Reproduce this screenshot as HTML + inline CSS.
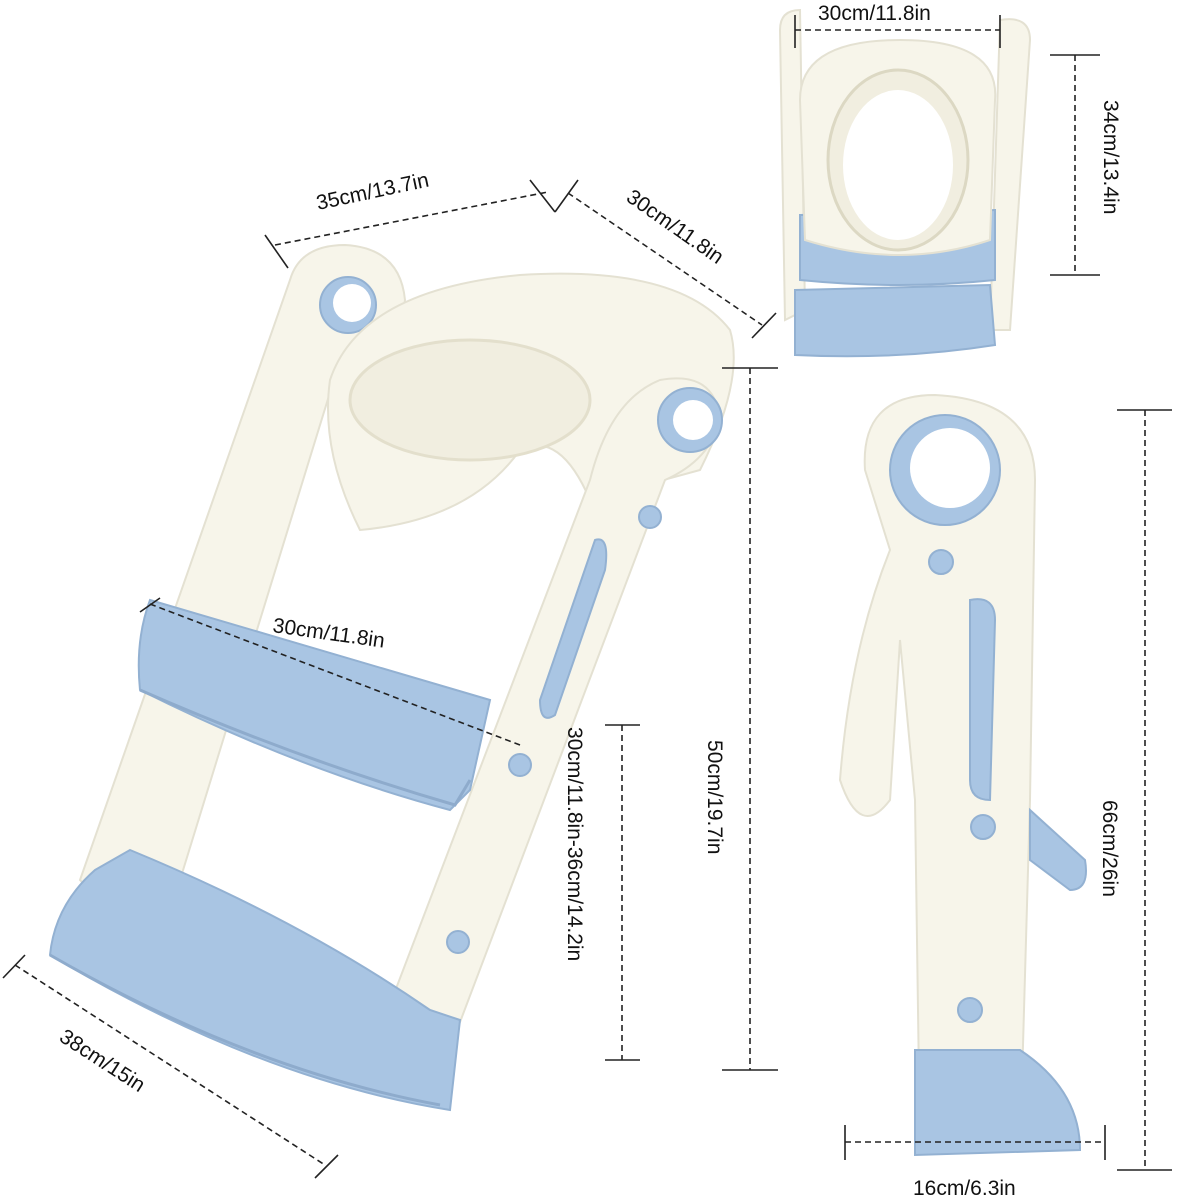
<!DOCTYPE html>
<html><head><meta charset="utf-8"><style>
html,body{margin:0;padding:0;background:#fff}
svg{display:block}
text{font-family:"Liberation Sans",sans-serif;font-size:21px;fill:#111}
.d{stroke:#222;stroke-width:1.6;stroke-dasharray:6 4;fill:none}
.t{stroke:#222;stroke-width:1.6;fill:none}
.w{fill:#f7f5ea;stroke:#e4e1d2;stroke-width:2}
.b{fill:#a9c5e3;stroke:#93b1d2;stroke-width:2}
</style></head><body>
<svg width="1178" height="1200" viewBox="0 0 1178 1200">
<path class="w" d="M290,280 Q300,245 345,245 Q400,248 405,300 Q400,340 360,345 L340,360 L180,880 L100,900 L80,880 Z"/>
<circle class="b" cx="348" cy="305" r="28"/><circle cx="352" cy="303" r="19" fill="#fff"/>
<path class="w" d="M330,380 Q360,290 520,275 Q680,265 730,330 Q745,380 700,470 L590,500 Q560,430 520,450 Q470,520 360,530 Q320,450 330,380 Z"/>
<ellipse cx="470" cy="400" rx="120" ry="60" fill="#f1eee0" stroke="#e3dfcc" stroke-width="3"/>
<path class="w" d="M660,380 Q715,370 720,420 Q710,460 665,480 L440,1075 L365,1070 L590,480 Q610,400 660,380 Z"/>
<circle class="b" cx="690" cy="420" r="32"/><circle cx="693" cy="420" r="20" fill="#fff"/>
<path class="b" d="M595,540 Q610,535 605,570 L555,715 Q540,725 540,700 Z"/>
<circle class="b" cx="650" cy="517" r="11"/><circle class="b" cx="520" cy="765" r="11"/><circle class="b" cx="458" cy="942" r="11"/>
<path class="b" d="M150,600 L490,700 L470,790 L450,810 Q300,770 140,690 Q135,640 150,600 Z"/>
<path d="M140,690 Q300,760 455,805 L470,780" fill="none" stroke="#8eabcc" stroke-width="3"/>
<path class="b" d="M95,870 L130,850 Q300,920 430,1010 L460,1020 L450,1110 Q260,1080 50,955 Q55,905 95,870 Z"/>
<path d="M50,955 Q250,1070 440,1105" fill="none" stroke="#8eabcc" stroke-width="3"/>
<path class="w" d="M780,30 Q780,10 800,10 L805,310 L785,320 Z"/>
<path class="w" d="M1000,20 Q1030,15 1030,40 L1010,330 L990,330 Z"/>
<path class="b" d="M795,290 L990,285 L995,345 Q900,360 795,355 Z"/>
<path class="b" d="M800,215 L995,210 L995,280 Q900,290 800,280 Z"/>
<path class="w" d="M800,100 Q800,40 900,40 Q1000,40 995,100 L990,240 Q900,270 805,240 Z"/>
<ellipse cx="898" cy="160" rx="70" ry="90" fill="#f1eee0" stroke="#dcd8c3" stroke-width="3"/>
<ellipse cx="898" cy="165" rx="55" ry="75" fill="#fff"/>
<path class="w" d="M865,470 Q860,395 935,395 Q1035,400 1035,480 L1030,800 L1020,1150 L920,1150 L915,800 L900,640 L890,800 Q860,840 840,780 Q850,650 890,550 Z"/>
<circle class="b" cx="945" cy="470" r="55"/><circle cx="950" cy="468" r="40" fill="#fff"/>
<path class="b" d="M970,600 Q995,595 995,620 L990,800 Q970,800 970,780 Z"/>
<circle class="b" cx="941" cy="562" r="12"/><circle class="b" cx="983" cy="827" r="12"/><circle class="b" cx="970" cy="1010" r="12"/>
<path class="b" d="M1030,810 L1085,860 Q1090,890 1070,890 L1030,860 Z"/>
<path class="b" d="M915,1050 L1020,1050 Q1080,1090 1080,1150 L915,1155 Z"/>
<line class="d" x1="275" y1="245" x2="548" y2="192"/><line class="t" x1="265" y1="235" x2="288" y2="268"/><line class="t" x1="530" y1="180" x2="555" y2="212"/>
<line class="d" x1="568" y1="193" x2="762" y2="325"/><line class="t" x1="555" y1="212" x2="578" y2="180"/><line class="t" x1="752" y1="338" x2="776" y2="313"/>
<line class="d" x1="150" y1="604" x2="520" y2="745"/><line class="t" x1="140" y1="612" x2="160" y2="598"/>
<line class="d" x1="622" y1="725" x2="622" y2="1060"/><line class="t" x1="605" y1="725" x2="640" y2="725"/><line class="t" x1="605" y1="1060" x2="640" y2="1060"/>
<line class="d" x1="750" y1="368" x2="750" y2="1070"/><line class="t" x1="722" y1="368" x2="778" y2="368"/><line class="t" x1="722" y1="1070" x2="778" y2="1070"/>
<line class="d" x1="15" y1="965" x2="325" y2="1165"/><line class="t" x1="3" y1="978" x2="25" y2="955"/><line class="t" x1="315" y1="1178" x2="338" y2="1155"/>
<line class="d" x1="795" y1="30" x2="1000" y2="30"/><line class="t" x1="795" y1="15" x2="795" y2="48"/><line class="t" x1="1000" y1="15" x2="1000" y2="48"/>
<line class="d" x1="1075" y1="55" x2="1075" y2="275"/><line class="t" x1="1050" y1="55" x2="1100" y2="55"/><line class="t" x1="1050" y1="275" x2="1100" y2="275"/>
<line class="d" x1="1145" y1="410" x2="1145" y2="1170"/><line class="t" x1="1117" y1="410" x2="1172" y2="410"/><line class="t" x1="1117" y1="1170" x2="1172" y2="1170"/>
<line class="d" x1="845" y1="1142" x2="1105" y2="1142"/><line class="t" x1="845" y1="1125" x2="845" y2="1160"/><line class="t" x1="1105" y1="1125" x2="1105" y2="1160"/>
<text transform="translate(318,210) rotate(-12)">35cm/13.7in</text>
<text transform="translate(625,200) rotate(35)">30cm/11.8in</text>
<text transform="translate(272,632) rotate(8)">30cm/11.8in</text>
<text transform="translate(568,727) rotate(90)">30cm/11.8in-36cm/14.2in</text>
<text transform="translate(708,740) rotate(90)">50cm/19.7in</text>
<text transform="translate(58,1040) rotate(33)">38cm/15in</text>
<text x="818" y="20">30cm/11.8in</text>
<text transform="translate(1104,100) rotate(90)">34cm/13.4in</text>
<text transform="translate(1103,800) rotate(90)">66cm/26in</text>
<text x="913" y="1195">16cm/6.3in</text>
</svg>
</body></html>
